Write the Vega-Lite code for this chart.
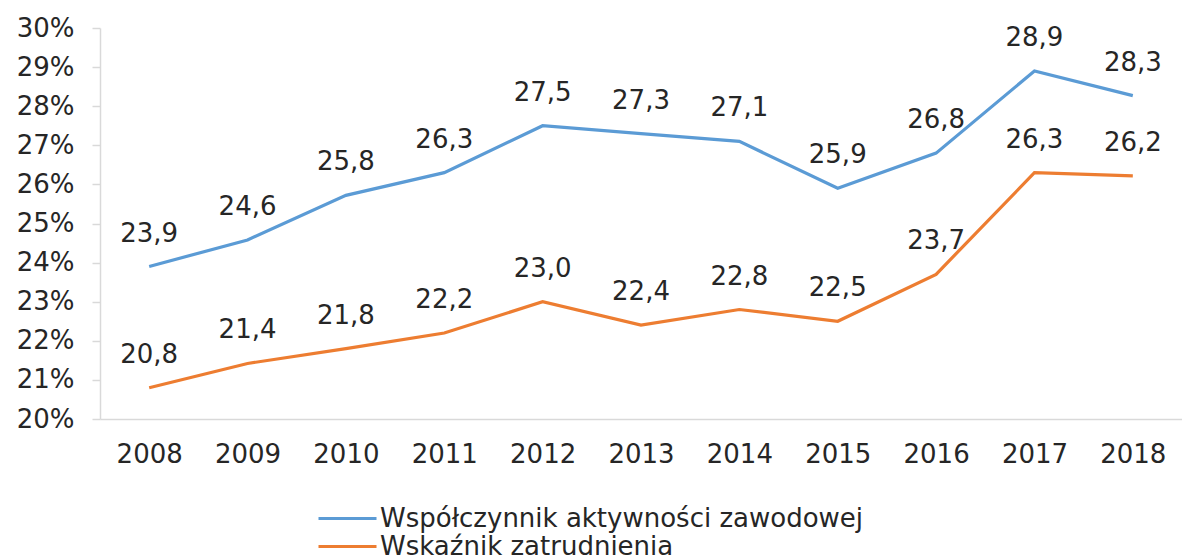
{
  "$schema": "https://vega.github.io/schema/vega-lite/v6.json",
  "width": 1082,
  "height": 391,
  "autosize": {"type": "none"},
  "padding": {"left": 100, "top": 28, "right": 0, "bottom": 140},
  "background": "white",
  "config": {
    "view": {"stroke": null},
    "font": "DejaVu Sans",
    "axis": {"labelFont": "DejaVu Sans", "labelColor": "#262626", "labelFontSize": 26, "domainColor": "#D9D9D9", "domainWidth": 1.5, "tickColor": "#D9D9D9", "tickWidth": 1.5, "grid": false, "title": null},
    "legend": {"labelFont": "DejaVu Sans"}
  },
  "data": {
    "values": [
      {"year": "2008", "series": "Współczynnik aktywności zawodowej", "value": 23.9, "label": "23,9"},
      {"year": "2009", "series": "Współczynnik aktywności zawodowej", "value": 24.58, "label": "24,6"},
      {"year": "2010", "series": "Współczynnik aktywności zawodowej", "value": 25.72, "label": "25,8"},
      {"year": "2011", "series": "Współczynnik aktywności zawodowej", "value": 26.3, "label": "26,3"},
      {"year": "2012", "series": "Współczynnik aktywności zawodowej", "value": 27.5, "label": "27,5"},
      {"year": "2013", "series": "Współczynnik aktywności zawodowej", "value": 27.3, "label": "27,3"},
      {"year": "2014", "series": "Współczynnik aktywności zawodowej", "value": 27.1, "label": "27,1"},
      {"year": "2015", "series": "Współczynnik aktywności zawodowej", "value": 25.9, "label": "25,9"},
      {"year": "2016", "series": "Współczynnik aktywności zawodowej", "value": 26.8, "label": "26,8"},
      {"year": "2017", "series": "Współczynnik aktywności zawodowej", "value": 28.9, "label": "28,9"},
      {"year": "2018", "series": "Współczynnik aktywności zawodowej", "value": 28.27, "label": "28,3"},
      {"year": "2008", "series": "Wskaźnik zatrudnienia", "value": 20.8, "label": "20,8"},
      {"year": "2009", "series": "Wskaźnik zatrudnienia", "value": 21.42, "label": "21,4"},
      {"year": "2010", "series": "Wskaźnik zatrudnienia", "value": 21.8, "label": "21,8"},
      {"year": "2011", "series": "Wskaźnik zatrudnienia", "value": 22.2, "label": "22,2"},
      {"year": "2012", "series": "Wskaźnik zatrudnienia", "value": 23.0, "label": "23,0"},
      {"year": "2013", "series": "Wskaźnik zatrudnienia", "value": 22.4, "label": "22,4"},
      {"year": "2014", "series": "Wskaźnik zatrudnienia", "value": 22.8, "label": "22,8"},
      {"year": "2015", "series": "Wskaźnik zatrudnienia", "value": 22.5, "label": "22,5"},
      {"year": "2016", "series": "Wskaźnik zatrudnienia", "value": 23.7, "label": "23,7"},
      {"year": "2017", "series": "Wskaźnik zatrudnienia", "value": 26.3, "label": "26,3"},
      {"year": "2018", "series": "Wskaźnik zatrudnienia", "value": 26.22, "label": "26,2"}
    ]
  },
  "encoding": {
    "x": {
      "field": "year", "type": "ordinal",
      "scale": {"type": "point", "padding": 0.5},
      "axis": {"labelAngle": 0, "ticks": false, "labelPadding": 22}
    },
    "y": {
      "field": "value", "type": "quantitative",
      "scale": {"domain": [20, 30], "zero": false, "nice": false},
      "axis": {"values": [20, 21, 22, 23, 24, 25, 26, 27, 28, 29, 30], "labelExpr": "datum.value + '%'", "tickSize": 8, "labelPadding": 18}
    }
  },
  "layer": [
    {
      "mark": {"type": "line", "strokeWidth": 3.2},
      "encoding": {
        "color": {
          "field": "series", "type": "nominal",
          "scale": {"domain": ["Współczynnik aktywności zawodowej", "Wskaźnik zatrudnienia"], "range": ["#5B9BD5", "#ED7D31"]},
          "legend": {
            "orient": "none", "legendX": 233, "legendY": 476, "title": null,
            "symbolType": "M-2.32,0H2.32", "symbolSize": 625, "symbolStrokeWidth": 3.2, "symbolFillColor": "transparent",
            "labelFontSize": 26, "labelLimit": 0, "labelColor": "#262626", "labelOffset": 18, "rowPadding": 0, "padding": 0
          }
        }
      }
    },
    {
      "mark": {"type": "text", "dy": -33, "fontSize": 26, "color": "#262626", "font": "DejaVu Sans", "baseline": "middle"},
      "encoding": {
        "text": {"field": "label"},
        "detail": {"field": "series"}
      }
    }
  ]
}
